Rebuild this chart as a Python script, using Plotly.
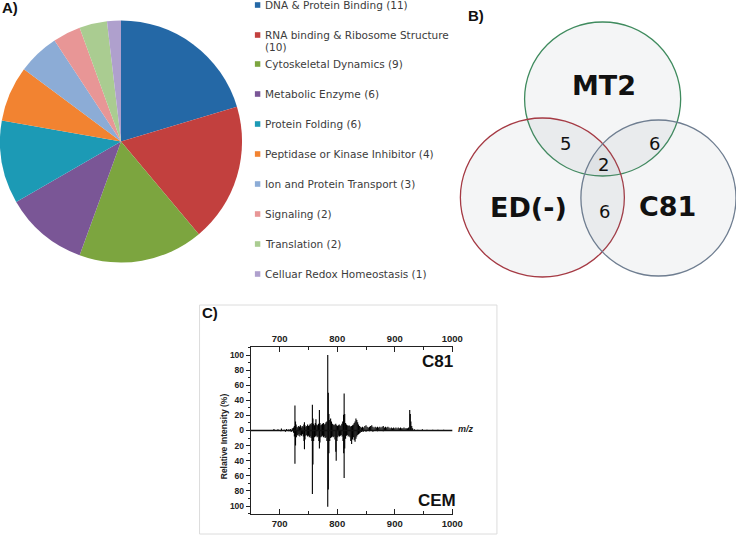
import plotly.graph_objects as go

W, H = 745, 535

# ---------------- Panel A data ----------------
categories = ["DNA & Protein Binding", "RNA binding & Ribosome Structure",
              "Cytoskeletal Dynamics", "Metabolic Enzyme", "Protein Folding",
              "Peptidase or Kinase Inhibitor", "Ion and Protein Transport",
              "Signaling", "Translation", "Celluar Redox Homeostasis"]
counts = [11, 10, 9, 6, 6, 4, 3, 2, 2, 1]
pie_colors = ["#2468a6", "#c2403e", "#7ca53f", "#7a5696", "#1c9ab5",
              "#f28331", "#8cacd6", "#e89696", "#aacc91", "#afa0cd"]

# ---------------- Panel B data ----------------
venn_sets = ["MT2", "ED(-)", "C81"]
venn_overlaps = ["5", "6", "2", "6"]  # MT2&ED, MT2&C81, all three, ED&C81

# ---------------- Panel C data ----------------
c81_mz = [690, 697, 703, 708, 712, 716, 719, 722, 724, 725.5, 726.5, 727.5, 728.5, 730,
          731.5, 733, 734.5, 736, 737.5, 739, 740.5, 742, 743, 744, 745.5, 747, 748.5,
          750, 751.5, 753, 754.5, 756, 756.8, 757.8, 759, 760.5, 762, 763, 764.5, 766,
          767.5, 769, 770, 771.5, 773, 774.5, 776, 777.5, 779, 780.5, 782, 783.5, 784.5,
          785.5, 787, 788.5, 790, 791.5, 793, 794.5, 796, 797.5, 799, 800.5, 802, 803.5,
          805, 806.5, 808, 809.5, 811, 812, 813, 814.5, 816, 817.5, 819, 820.5, 822,
          823.5, 825, 826.5, 828, 829.5, 831, 832.5, 834, 835.5, 837, 838.5, 840, 842,
          844, 846, 848, 850, 852, 854, 856, 858, 860, 862, 864, 866, 868, 870, 872,
          874, 876, 878, 880, 882, 884, 886, 888, 890, 892, 894, 896, 898, 900, 902,
          904, 906, 908, 910, 912, 914, 916, 918, 920, 922, 924, 926, 927, 928, 929.5,
          931, 934, 940, 948, 956, 966, 975, 985]
c81_int = [2, 1.5, 2.5, 1, 2, 1.5, 2, 3, 4, 6, 33, 12, 8, 5,
           4, 6, 5, 7, 4, 6, 5, 8, 11, 7, 5, 6, 8,
           6, 7, 9, 8, 10, 34, 16, 9, 7, 10, 15, 8, 7,
           9, 27, 10, 7, 8, 9, 10, 8, 9, 11, 12, 100, 50,
           22, 14, 16, 12, 9, 8, 7, 8, 9, 7, 6, 7, 8,
           6, 7, 9, 12, 21, 49, 22, 10, 8, 7, 6, 7, 6,
           5, 6, 7, 8, 10, 12, 16, 14, 11, 8, 6, 5, 4,
           5, 4, 6, 7, 5, 4, 5, 6, 7, 5, 4, 5, 4, 5, 4,
           5, 4, 5, 6, 4, 5, 4, 5, 4, 3, 4, 3, 4, 3, 4,
           3, 4, 3, 4, 3, 3, 4, 3, 3, 3, 4, 27, 22, 12, 6,
           3, 1.5, 1, 1.5, 1, 1, 1, 1]

cem_mz = [702, 710, 716, 720, 724, 725.5, 726.5, 727.5, 729, 730.5, 732, 733.5, 735,
          736.5, 738, 739.5, 741, 742.2, 743, 744, 745.5, 747, 748.5, 750, 751.5, 753,
          754.5, 756, 756.8, 757.8, 759, 760.5, 762, 763.5, 765, 766.5, 768, 769, 770,
          771.5, 773, 774.5, 776, 777.5, 779, 780.5, 782, 783.5, 784.5, 785.5, 787,
          788.5, 790, 791.5, 793, 794.5, 796, 797.5, 798.2, 799.5, 801, 802.5, 804,
          805.5, 807, 808.5, 810, 811.2, 812, 813, 814.5, 816, 817.5, 819, 820.5, 822,
          823.5, 825, 826.5, 828, 829.5, 831, 832.5, 834, 835.5, 837, 838.5, 840, 842,
          845, 850, 856, 862, 870, 880]
cem_int = [1, 1.5, 1, 2, 3, 8, 44, 20, 9, 6, 7, 5, 8,
           6, 7, 5, 8, 14, 25, 12, 7, 6, 8, 7, 9, 8,
           10, 14, 84, 45, 14, 9, 8, 7, 9, 8, 14, 24, 16,
           9, 8, 7, 9, 8, 10, 9, 14, 101, 78, 30, 14,
           10, 9, 8, 9, 8, 12, 28, 40, 14, 9, 7, 8,
           7, 6, 8, 14, 30, 63, 24, 11, 7, 6, 8, 7, 9,
           14, 18, 12, 9, 13, 15, 11, 8, 6, 5, 4, 3, 2,
           2, 1.5, 1, 1.5, 1, 1]

x_ticks = [700, 800, 900, 1000]
y_ticks = [-100, -80, -60, -40, -20, 0, 20, 40, 60, 80, 100]

FONT = "Liberation Sans"
WIDE = "DejaVu Sans"


def px(x):
    return x / W


def py(y):
    return 1 - y / H


fig = go.Figure()

# ---- Panel A: pie ----
fig.add_trace(go.Pie(
    labels=categories, values=counts, sort=False, direction="clockwise",
    rotation=0, textinfo="none", hoverinfo="label+value",
    marker=dict(colors=pie_colors, line=dict(width=0)),
    domain=dict(x=[0, px(245)], y=[py(264), py(19)]),
    showlegend=False))

annotations = []
shapes = []

legend_y = [5, 35, 64, 94, 124, 154, 184, 214, 244, 274]
for cat, n, col, yc in zip(categories, counts, pie_colors, legend_y):
    shapes.append(dict(type="rect", xref="paper", yref="paper",
                       x0=px(258), x1=px(263.5), y0=py(yc + 2.8), y1=py(yc - 2.8),
                       fillcolor=col, line=dict(width=0)))
    if len(cat) > 30:
        lines = [cat, f"({n})"]
    else:
        lines = [f"{cat} ({n})"]
    for i, ln in enumerate(lines):
        annotations.append(dict(x=px(266), y=py(yc + 12.5 * i), xref="paper", yref="paper",
                                text=ln, showarrow=False, xanchor="left", yanchor="middle",
                                font=dict(family=WIDE, size=10.5, color="#3c3c3c")))

# Panel labels
for lab, xl, yc in [("A)", 0, 8), ("B)", 472, 15), ("C)", 202, 312)]:
    annotations.append(dict(x=px(xl), y=py(yc), xref="paper", yref="paper", text=f"<b>{lab}</b>",
                            showarrow=False, xanchor="left", yanchor="middle",
                            font=dict(family=FONT, size=15, color="#111")))

# ---- Panel B: Venn (axis x3/y3 in local pixel units) ----
circles = [  # x0, x1, y0, y1 (local px), outline colour
    (71, 229, 22, 176, "#3f8b5e"),
    (6, 172, 118, 277, "#a53a44"),
    (128, 285, 120, 276, "#6e7d90"),
]
for x0, x1, y0, y1, lc in circles:
    shapes.append(dict(type="circle", xref="x3", yref="y3", x0=x0, x1=x1, y0=y0, y1=y1,
                       fillcolor="rgba(120,126,142,0.08)", line=dict(color=lc, width=1.3),
                       layer="above"))

set_pos = [(151, 85), (75, 207), (216, 206)]
for name, (x, y) in zip(venn_sets, set_pos):
    annotations.append(dict(x=x, y=y, xref="x3", yref="y3", text=f"<b>{name}</b>",
                            showarrow=False, font=dict(family=WIDE, size=27, color="#111")))
ov_pos = [(112, 143), (203, 143), (151, 164), (152, 211)]
for t, (x, y) in zip(venn_overlaps, ov_pos):
    annotations.append(dict(x=x, y=y, xref="x3", yref="y3", text=t, showarrow=False,
                            font=dict(family=WIDE, size=18, color="#111")))

fig.add_trace(go.Scatter(x=[0, 285], y=[0, 290], mode="markers", marker=dict(opacity=0),
                         xaxis="x3", yaxis="y3", hoverinfo="skip", showlegend=False))

# ---- Panel C: mirror mass spectrum ----
shapes.append(dict(type="rect", xref="paper", yref="paper", x0=px(202), x1=px(503),
                   y0=py(534), y1=py(305), line=dict(color="#dcdcdc", width=1), layer="below"))


def stems(mz, vals, sign):
    xs, ys = [], []
    for m, v in zip(mz, vals):
        xs += [m, m, None]
        ys += [0, sign * v, None]
    return xs, ys


xs, ys = stems(c81_mz, c81_int, 1)
fig.add_trace(go.Scatter(x=xs, y=ys, mode="lines", line=dict(color="#000", width=1.1),
                         xaxis="x", yaxis="y", hoverinfo="skip", showlegend=False))
xs, ys = stems(cem_mz, cem_int, -1)
fig.add_trace(go.Scatter(x=xs, y=ys, mode="lines", line=dict(color="#000", width=1.1),
                         xaxis="x", yaxis="y", hoverinfo="skip", showlegend=False))
fig.add_trace(go.Scatter(x=[650, 1000], y=[0, 0], mode="lines",
                         line=dict(color="#111", width=1.4),
                         xaxis="x", yaxis="y", hoverinfo="skip", showlegend=False))
# invisible trace so the mirrored top axis is drawn
fig.add_trace(go.Scatter(x=[700, 1000], y=[0, 0], mode="markers", marker=dict(opacity=0),
                         xaxis="x2", yaxis="y", hoverinfo="skip", showlegend=False))

annotations += [
    dict(x=px(462), y=py(429), xref="paper", yref="paper", text="<b><i>m/z</i></b>",
         showarrow=False, xanchor="left", yanchor="middle",
         font=dict(family=FONT, size=9, color="#222")),
    dict(x=px(227), y=py(436), xref="paper", yref="paper", text="<b>Relative Intensity (%)</b>",
         showarrow=False, textangle=-90, xanchor="center", yanchor="middle",
         font=dict(family=FONT, size=8.5, color="#222")),
    dict(x=px(443), y=py(361), xref="paper", yref="paper", text="<b>C81</b>",
         showarrow=False, xanchor="center", yanchor="middle",
         font=dict(family=FONT, size=17, color="#111")),
    dict(x=px(442), y=py(500), xref="paper", yref="paper", text="<b>CEM</b>",
         showarrow=False, xanchor="center", yanchor="middle",
         font=dict(family=FONT, size=17, color="#111")),
]

xax_common = dict(range=[650, 1002], tickvals=x_ticks, ticktext=[f"<b>{v}</b>" for v in x_ticks],
                  ticks="inside", ticklen=5, tickwidth=1.2, tickcolor="#222",
                  showline=True, linecolor="#222", linewidth=1.3, showgrid=False,
                  zeroline=False, tickfont=dict(family=FONT, size=9.5, color="#222"),
                  minor=dict(tickvals=[650, 750, 850, 950], ticks="inside", ticklen=3,
                             tickcolor="#222"),
                  fixedrange=True)

fig.update_layout(
    width=W, height=H, margin=dict(l=0, r=0, t=0, b=0),
    paper_bgcolor="white", plot_bgcolor="white",
    xaxis=dict(**xax_common, side="bottom", anchor="y", domain=[px(254), px(459)]),
    xaxis2=dict(**xax_common, side="top", anchor="y", overlaying="x"),
    yaxis=dict(range=[-110.6, 110.6], domain=[py(514), py(347)], anchor="x",
               tickvals=y_ticks, ticktext=[f"<b>{abs(v)}</b>" for v in y_ticks],
               ticks="outside", ticklen=4, tickwidth=1.1, tickcolor="#222",
               showline=True, linecolor="#222", linewidth=1.3, showgrid=False,
               zeroline=False, tickfont=dict(family=FONT, size=8.5, color="#222"),
               minor=dict(dtick=10, ticks="outside", ticklen=2, tickcolor="#222"),
               fixedrange=True),
    xaxis3=dict(domain=[px(460), 1], range=[0, 285], visible=False, anchor="y3",
                fixedrange=True),
    yaxis3=dict(domain=[py(290), 1], range=[290, 0], visible=False, anchor="x3",
                fixedrange=True),
    shapes=shapes, annotations=annotations,
)

post = ("document.documentElement.style.overflow='hidden';"
        "document.documentElement.style.margin='0';"
        "document.body.style.margin='0';document.body.style.padding='0';"
        "document.body.style.overflow='hidden';")

fig.write_html("out.html", config={"displayModeBar": False}, post_script=post)
